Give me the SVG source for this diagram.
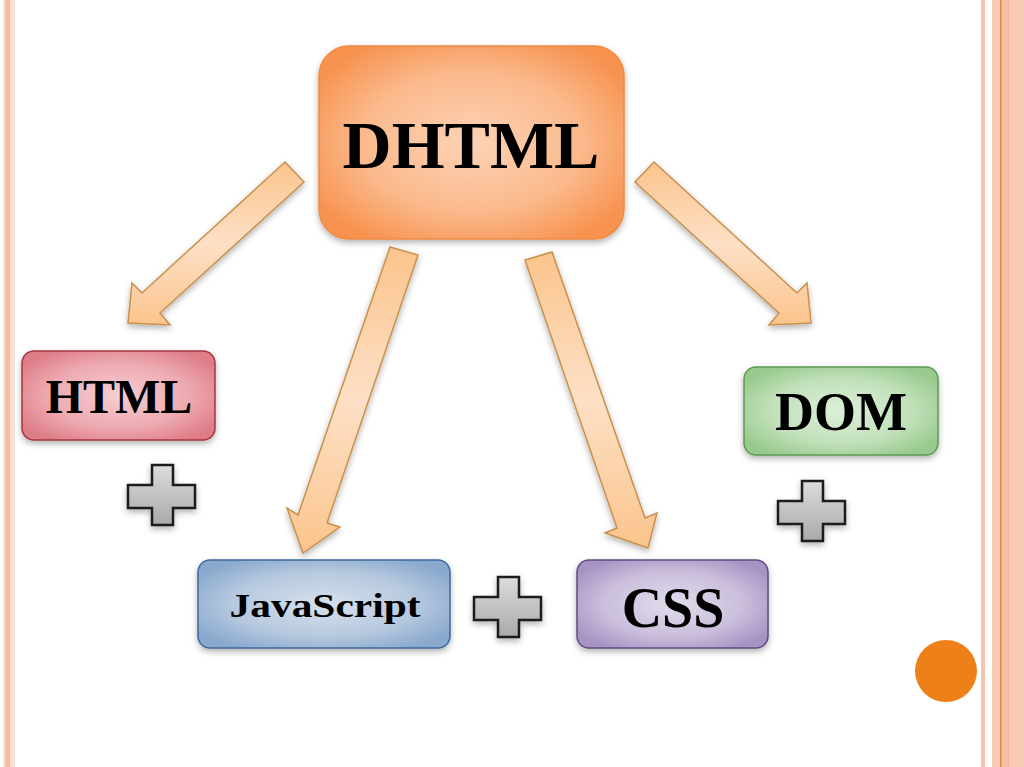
<svg xmlns="http://www.w3.org/2000/svg" width="1024" height="767" viewBox="0 0 1024 767">
  <defs>
    <radialGradient id="gOrange" cx="50%" cy="50%" r="60%">
      <stop offset="0" stop-color="#fdd3b6"/>
      <stop offset="0.6" stop-color="#fbb98c"/>
      <stop offset="1" stop-color="#f7924f"/>
    </radialGradient>
    <radialGradient id="gRed" cx="50%" cy="50%" r="60%">
      <stop offset="0" stop-color="#f6cdd1"/>
      <stop offset="0.6" stop-color="#eeaab1"/>
      <stop offset="1" stop-color="#de7d88"/>
    </radialGradient>
    <radialGradient id="gBlue" cx="50%" cy="50%" r="60%">
      <stop offset="0" stop-color="#d5e0ec"/>
      <stop offset="0.6" stop-color="#b7c9df"/>
      <stop offset="1" stop-color="#89a8cd"/>
    </radialGradient>
    <radialGradient id="gPurple" cx="50%" cy="50%" r="60%">
      <stop offset="0" stop-color="#e2dcec"/>
      <stop offset="0.6" stop-color="#cbbfdc"/>
      <stop offset="1" stop-color="#a594c3"/>
    </radialGradient>
    <radialGradient id="gGreen" cx="50%" cy="50%" r="60%">
      <stop offset="0" stop-color="#ddeed9"/>
      <stop offset="0.6" stop-color="#c2e1bb"/>
      <stop offset="1" stop-color="#98c98d"/>
    </radialGradient>
    <linearGradient id="gArrow" x1="0" y1="0" x2="0" y2="1">
      <stop offset="0" stop-color="#fbc48c"/>
      <stop offset="0.5" stop-color="#fde0c6"/>
      <stop offset="1" stop-color="#fbc48c"/>
    </linearGradient>
    <linearGradient id="gPlus" x1="0" y1="0" x2="0" y2="1">
      <stop offset="0" stop-color="#dcdcdc"/>
      <stop offset="1" stop-color="#a9a9a9"/>
    </linearGradient>
    <filter id="shadow" x="-20%" y="-20%" width="140%" height="150%">
      <feDropShadow dx="0" dy="3" stdDeviation="3" flood-color="#000" flood-opacity="0.3"/>
    </filter>
    <path id="plus" d="M-10,-31 H11 V-11 H33 V12 H11 V29 H-10 V12 H-34 V-11 H-10 Z"/>
  </defs>
  <style>
    .lbl { font-family: "Liberation Serif", "Times New Roman", serif; font-weight: bold; fill: #000; text-anchor: middle; }
    .arrow { fill: url(#gArrow); stroke: #c9914c; stroke-width: 1.5; stroke-linejoin: miter; filter: url(#shadow); }
    .plus { fill: url(#gPlus); stroke: #1a1a1a; stroke-width: 2.5; filter: url(#shadow); }
  </style>

  <rect width="1024" height="767" fill="#ffffff"/>

  <g id="border">
    <rect x="3" y="0" width="12" height="767" fill="#fbe2d7"/>
    <rect x="5" y="0" width="5" height="767" fill="#f6bfa4"/>
    <rect x="981" y="0" width="4" height="767" fill="#f6c4ae"/>
    <rect x="992" y="0" width="32" height="767" fill="#f8cbb6"/>
    <rect x="1000" y="0" width="8" height="767" fill="#f6c0a6"/>
    <rect x="1000" y="0" width="1.5" height="767" fill="#e6863f"/>
    <rect x="1008" y="0" width="1" height="767" fill="#f3b499"/>
  </g>

  <g id="connectors">
    <polygon class="arrow" points="285,162 304,182 160,313 170,325 128,323 132,283 142,293"/>
    <polygon class="arrow" points="390,247 418,255 327,523 340,527 303,553 287,508 298,515"/>
    <polygon class="arrow" points="525,260 552,252 645,518 657,513 648,548 605,533 617,528"/>
    <polygon class="arrow" points="654,162 635,182 779,313 769,325 811,323 807,283 797,293"/>
  </g>

  <g id="node-dhtml">
    <rect x="319" y="46" width="305" height="193" rx="30" fill="url(#gOrange)" stroke="#ef8a45" stroke-width="1.5" filter="url(#shadow)"/>
    <text class="lbl" x="471" y="168" font-size="68">DHTML</text>
  </g>

  <g id="node-html">
    <rect x="22" y="351" width="193" height="89" rx="12" fill="url(#gRed)" stroke="#a83442" stroke-width="1.5" filter="url(#shadow)"/>
    <text class="lbl" x="119" y="413" font-size="48">HTML</text>
  </g>

  <g id="node-javascript">
    <rect x="198" y="560" width="252" height="88" rx="12" fill="url(#gBlue)" stroke="#3d6a9b" stroke-width="1.5" filter="url(#shadow)"/>
    <text class="lbl" x="325" y="617" font-size="33" textLength="191" lengthAdjust="spacingAndGlyphs">JavaScript</text>
  </g>

  <g id="node-css">
    <rect x="577" y="560" width="191" height="88" rx="12" fill="url(#gPurple)" stroke="#5f4b82" stroke-width="1.5" filter="url(#shadow)"/>
    <text class="lbl" x="673" y="627" font-size="56">CSS</text>
  </g>

  <g id="node-dom">
    <rect x="744" y="367" width="194" height="88" rx="12" fill="url(#gGreen)" stroke="#5c9b52" stroke-width="1.5" filter="url(#shadow)"/>
    <text class="lbl" x="841" y="430" font-size="54">DOM</text>
  </g>

  <g id="plus-1"><use href="#plus" class="plus" transform="translate(162,496)"/></g>
  <g id="plus-2"><use href="#plus" class="plus" transform="translate(508,608)"/></g>
  <g id="plus-3"><use href="#plus" class="plus" transform="translate(812,512)"/></g>

  <g id="dot">
    <circle cx="946" cy="671" r="31" fill="#ee8019"/>
  </g>
</svg>
